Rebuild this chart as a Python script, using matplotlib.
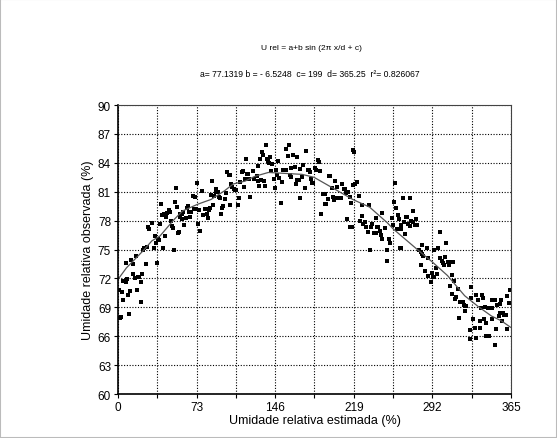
import numpy as np
import matplotlib.pyplot as plt
from matplotlib.patches import Rectangle

plt.rcParams['font.family'] = ['Liberation Sans', 'DejaVu Sans']

dias = [1, 4, 5, 2, 3, 5, 7, 8.5, 7.5, 9.5, 10, 11, 12.5, 13.5, 14, 15.5, 17, 18, 19, 19.5,
        21, 21.5, 22, 23.5, 24, 26, 27, 28, 29, 32, 34, 33, 35, 36, 37, 38, 39, 40, 41, 42,
        43, 43.5, 45, 45.6, 47, 48, 49, 50, 51, 52, 53, 54, 55, 56, 57, 57.5, 58, 59.5, 59,
        60, 61, 63, 64, 65, 66, 67, 66.5, 68, 70, 71, 72.5, 72, 73.6, 74.6, 75.5, 76.5, 78,
        79, 81, 82, 83, 84, 85, 85.8, 86.5, 87.5, 88.7, 89.2, 90.6, 91.5, 92.5, 93.8, 94.4,
        96, 97, 98, 99, 100, 101.6, 103, 104.5, 104, 105, 106.3, 108, 109, 110, 111.7, 112.5,
        113, 115, 116, 117, 118, 118.6, 119.5, 120.5, 121.5, 123,
        125.6, 126.6, 128.8, 130, 130.3, 131.4, 132, 132.5, 133.5, 134.5, 135.3, 136.6, 137.2,
        138, 139, 140, 141, 142, 143.5, 144.7, 145.4, 147, 148, 148.8, 149.8, 151, 152,
        153.5, 154.8, 156.4, 155.7, 157.6, 158.5, 159.4, 160.4, 161, 162.6, 164.2, 165,
        166, 167.8, 166.6, 168.6, 169.5, 171.3, 172.3, 173.6, 175, 176.3, 177.2, 178.1, 179,
        180.2, 181.5, 183, 184.2, 185.5, 186.4, 187.4, 188.6, 190.5, 192, 191.9, 193.5, 194.8,
        196, 197.2, 198.5, 199.9, 200.8, 202, 203, 204.9, 206.8, 203.6, 208, 209.6, 211.2,
        212.1, 212.7, 213.5, 215.1, 215.4, 216.7, 217.3, 218.6, 219.4, 218.4, 220.3, 222.2,
        224, 225, 226.2, 226.8, 228, 229.3, 230.5, 231.8, 233, 233.7, 234.6, 236.2, 237.4,
        238.3, 239.3, 240, 241, 241.9, 243.1, 244, 245.3, 245.6,
        248.3, 249.9, 251.4, 252.3, 249.9, 254.6, 255.5, 256, 257, 258, 258.7, 260, 261.8,
        262.7, 259.6, 261.2, 263.3, 262.7, 264.9, 266.1, 266.8, 267.7, 268.6, 269.6, 271,
        271.6, 272.5, 273.6, 274.2, 275.5, 277.3, 276.4, 280, 281.3, 282, 282.6, 283.6,
        281.3, 285, 286.9, 288.1, 288.3, 290.5, 291.5, 292.5, 293.7, 293.1, 295, 296, 297.4,
        298.7, 299.3, 300.5, 301.5, 303, 304, 306.2, 305, 307.8, 309.7, 311.6, 310.5, 308,
        312.4, 309.8, 313, 314.2, 315.6, 316.5, 318.1, 319.3, 320.6, 321.2, 322.4, 323.4,
        326.5, 327.5, 328.1, 327.2, 330, 331.2, 332.2, 332.8, 334.4, 335.9, 336.5, 337.5,
        338.5, 339.4, 340, 340.6, 342.2, 342.2, 343.8, 345.3, 346.9, 344.7, 346.9, 347.8,
        349.7, 351.3, 350.6, 352.2, 353.8, 354.4, 354.7, 355.6, 356.9, 357.8, 358.8, 360,
        361, 361.6, 362.9, 364.3]
ur_obs = [70.8, 70.6, 69.8, 67.9, 68.0, 71.7, 71.6, 71.9, 73.6, 70.3, 68.3, 70.7, 73.9, 73.5,
          72.5, 72.0, 74.3, 70.8, 72.1, 72.1, 69.6, 71.6, 72.5, 75.0, 75.2, 73.5, 75.3,
          77.3, 77.1, 77.8, 76.4, 75.2, 75.7, 73.6, 76.1, 76.0, 77.6, 79.7, 78.6, 75.2,
          78.7, 76.4, 78.4, 78.8, 79.1, 78.9, 78.0, 77.4, 77.2, 75.0, 79.9, 81.4, 79.4,
          76.7, 76.8, 78.4, 78.7, 78.7, 78.2, 78.9, 77.5, 78.3, 79.3, 79.5, 78.9, 78.9,
          78.4, 78.9, 80.6, 79.2, 79.2, 80.4, 81.9, 77.6, 79.1, 76.9, 81.1, 78.6, 79.2,
          79.2, 78.7, 78.3, 79.1, 79.3, 80.7, 82.1, 79.6, 80.6, 81.3, 81.0, 81.0, 80.4,
          80.3, 78.7, 79.3, 79.5, 80.2, 80.9, 83.0, 82.7, 82.7, 79.6, 81.8, 81.5, 81.3,
          81.2, 81.2, 79.6, 80.3, 82.0, 83.0, 83.2, 81.5, 82.3, 84.4, 82.8, 82.8, 82.3, 80.4,
          83.2, 82.3, 82.6, 82.1, 83.7, 81.6, 84.4, 82.2, 85.1, 84.8, 82.1, 81.6, 85.9,
          84.4, 84.2, 84.0, 84.6, 83.2, 83.9, 82.3, 81.4, 83.3, 82.7, 84.2, 82.4, 79.8, 82.0,
          83.3, 83.3, 83.3, 85.4, 84.7, 85.8, 82.7, 83.5, 82.5, 84.8, 83.6, 81.8,
          82.2, 82.2, 84.6, 80.3, 83.4, 82.5, 83.8, 81.4, 85.2, 83.3, 83.3, 83.0, 82.3,
          81.9, 81.9, 83.5, 83.3, 84.3, 84.1, 83.1, 78.7, 80.8, 80.8, 79.7, 79.7, 80.2,
          82.6, 82.6, 81.4, 80.4, 80.1, 82.1, 80.3, 80.3, 80.3, 81.5, 81.8, 81.3, 81.3,
          80.9, 78.2, 81.0, 80.4, 77.3, 79.8, 77.3, 85.3, 85.1, 81.7, 81.8, 82.0,
          80.6, 78.0, 79.6, 78.5, 77.6, 77.9, 77.3, 76.8, 79.6, 75.0, 77.3, 77.7, 76.7,
          76.7, 76.7, 78.3, 77.3, 77.3, 76.9, 76.5, 78.8, 76.1,
          77.2, 74.9, 76.1, 75.7, 73.8, 78.3, 77.5, 79.9, 81.9, 79.3, 77.1, 77.1, 75.2,
          77.1, 78.6, 78.2, 77.5, 75.2, 80.3, 77.9, 76.6, 78.4, 78.4, 77.6, 80.3,
          77.4, 78.0, 79.0, 77.9, 77.5, 77.5, 78.2, 74.9, 74.7, 75.5, 74.5, 74.3,
          73.4, 72.8, 75.2, 74.1, 72.3, 71.6, 72.6, 72.1, 72.1, 75.0, 73.1, 72.5, 75.2,
          76.8, 74.1, 73.8, 73.6, 73.4, 74.2, 73.7, 75.7, 73.4, 73.7, 73.7, 72.4, 71.2,
          71.7, 70.4, 69.9, 70.1, 70.9, 67.9, 69.5, 69.6, 69.6, 69.2, 68.6, 69.1,
          66.6, 71.1, 70.0, 65.7, 67.8, 66.9, 70.3, 65.8, 69.8, 67.6, 66.9, 68.9,
          70.3, 70.0, 67.8, 69.0, 67.4, 66.0, 68.9, 68.9, 68.9, 66.0, 67.8, 69.8,
          69.8, 66.7, 65.1, 69.2, 68.1, 68.4, 69.3, 69.8, 67.6, 68.4, 68.2, 68.2,
          66.7, 70.2, 69.4, 70.8]

# fitted curve as drawn on the chart
dias_ajuste = [0, 7.9, 23.6, 31.5, 39, 52, 60, 74, 86.5, 99, 107, 118, 127.2, 139.7, 155.4,
               171, 182, 193, 205.5, 218, 233.7, 249.9, 256, 278, 292, 306, 322, 334.3,
               346.8, 356, 365]
ur_ajuste = [71.9, 73.1, 74.9, 75.9, 76.4, 78.1, 79.0, 79.7, 80.2, 81.1, 81.8, 82.1, 82.6,
             83.0, 82.9, 82.8, 82.5, 81.8, 81.0, 80.2, 79.4, 77.8, 77.1, 75.0, 73.7, 72.3,
             70.2, 69.1, 68.1, 67.6, 66.9]

xticks_pos = [0, 36.5, 73, 109.5, 146, 182.5, 219, 255.5, 292, 328.5, 365]

fig = plt.figure(figsize=(5.57, 4.39), dpi=100)
ax = fig.add_axes([0.2118, 0.1002, 0.7056, 0.6583])

ax.plot(dias, ur_obs, 's', color='black', markersize=3, markeredgewidth=0)
ax.plot(dias_ajuste, ur_ajuste, '-', color='#555555', linewidth=0.9)

ax.set_xlim(0, 365)
ax.set_ylim(60, 90)
ax.set_xticks(xticks_pos)
ax.set_xticklabels(['%g' % t if i % 2 == 0 else '' for i, t in enumerate(xticks_pos)])
ax.set_yticks(np.arange(60, 91, 3))
ax.grid(True, color='black', linestyle=(0, (1, 1.5)), linewidth=0.8)
ax.tick_params(labelsize=8.5, length=3, color='black', pad=2)
for s in ['left', 'bottom']:
    ax.spines[s].set_linewidth(1.2)
for s in ['top', 'right']:
    ax.spines[s].set_color('#444444')

ax.set_xlabel('Umidade relativa estimada (%)', fontsize=9, labelpad=1)
ax.set_ylabel('Umidade relativa observada (%)', fontsize=9, labelpad=3)

fig.text(0.56, 1 - 49 / 439, 'U rel = a+b sin (2π x/d + c)', fontsize=6, ha='center', va='center')
fig.text(0.557, 1 - 75 / 439, 'a= 77.1319 b = - 6.5248  c= 199  d= 365.25  r²= 0.826067',
         fontsize=6.2, ha='center', va='center')

fig.patches.append(Rectangle((0, 0), 1, 1, transform=fig.transFigure, fill=False,
                             edgecolor='#bbbbbb', linewidth=1.5))

fig.savefig('out.png', dpi=100)
